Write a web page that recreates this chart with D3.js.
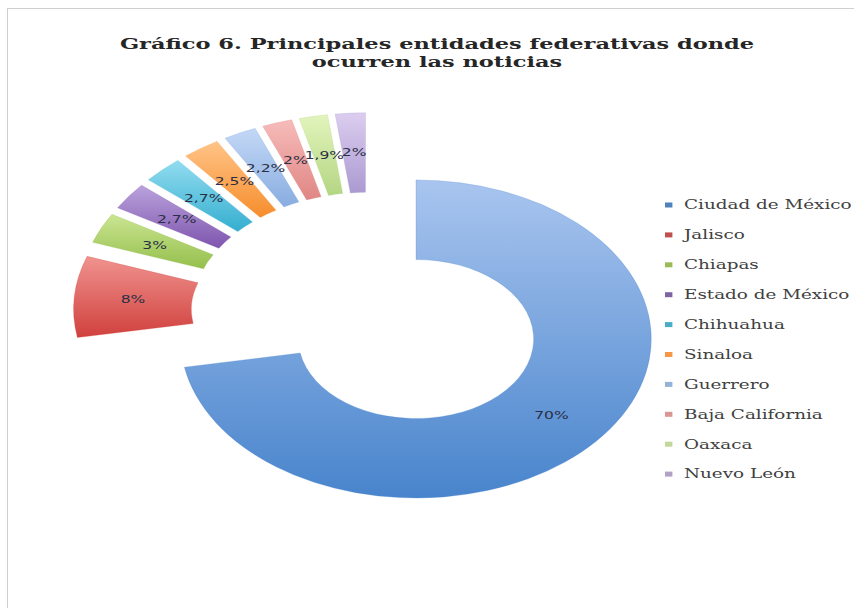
<!DOCTYPE html>
<html>
<head>
<meta charset="utf-8">
<script src="https://cdn.jsdelivr.net/npm/d3@7"></script>
<style>
  html, body { margin: 0; padding: 0; background: #ffffff; }
  svg { display: block; }
</style>
</head>
<body>
<svg id="chart" width="854" height="608"></svg>
<script>
// Entidades federativas y su porcentaje de noticias
const categories = [
  "Ciudad de México", "Jalisco", "Chiapas", "Estado de México", "Chihuahua",
  "Sinaloa", "Guerrero", "Baja California", "Oaxaca", "Nuevo León"
];
const values = [70, 8, 3, 2.7, 2.7, 2.5, 2.2, 2, 1.9, 2];
const titleLines = [
  "Gráfico 6. Principales entidades federativas donde",
  "ocurren las noticias"
];

// Office palette: base colour plus light/dark gradient stops per slice
const baseColors = ["#4F81BD", "#C0504D", "#9BBB59", "#8064A2", "#4BACC6",
                    "#F79646", "#95B3D7", "#D99694", "#C3D69B", "#B3A2C7"];
const topColors  = ["#a9c5ef", "#f0938f", "#cbe592", "#baa2dc", "#92dcf0",
                    "#ffc488", "#c4d8f6", "#f6bcba", "#e2f4bc", "#dccdf0"];
const botColors  = ["#4884cc", "#d0403d", "#94bf4c", "#7e55ae", "#34aecf",
                    "#f68d2c", "#88ade0", "#e08684", "#b4d683", "#ab9ad0"];

const svg = d3.select("#chart");

// Chart frame
svg.append("rect")
  .attr("x", 7.5).attr("y", 8.5)
  .attr("width", 900).attr("height", 700)
  .attr("fill", "#ffffff")
  .attr("stroke", "#cfcfcf").attr("stroke-width", 1);

// The whole chart is drawn with a horizontal stretch
const SX = 1.48;
const plot = svg.append("g").attr("transform", `scale(${SX},1)`);

const defs = svg.append("defs");
categories.forEach((c, i) => {
  const g = defs.append("linearGradient")
    .attr("id", "grad" + i)
    .attr("x1", 0).attr("y1", 0).attr("x2", 0).attr("y2", 1);
  g.append("stop").attr("offset", "0%").attr("stop-color", topColors[i]);
  g.append("stop").attr("offset", "100%").attr("stop-color", botColors[i]);
});

// Title
plot.append("g").selectAll("text")
  .data(titleLines)
  .join("text")
  .attr("x", 437 / SX)
  .attr("y", (d, i) => 49 + i * 18)
  .attr("text-anchor", "middle")
  .attr("font-family", "'DejaVu Serif', serif")
  .attr("font-weight", "bold")
  .attr("font-size", 15.2)
  .attr("fill", "#262626")
  .text(d => d);

// Doughnut (every slice pulled out along its bisector)
const outerR = 159, innerR = 79.5, explode = 41;
const cx = 416 / SX, cy = 339; // centre of the first slice once exploded

const pie = d3.pie().sort(null).value(d => d);
const arcs = pie(values);
const arc = d3.arc().innerRadius(innerR).outerRadius(outerR);

const bis = d => (d.startAngle + d.endAngle) / 2;
const offset = d => [explode * Math.sin(bis(d)), -explode * Math.cos(bis(d))];
const first = offset(arcs[0]);

const locale = d3.formatLocale({ decimal: ",", thousands: ".", grouping: [3], currency: ["$", ""] });
const fmt = v => locale.format("~g")(v) + "%";

const ring = plot.append("g")
  .attr("transform", `translate(${cx - first[0]},${cy - first[1]})`);

const slices = ring.selectAll("g.slice")
  .data(arcs)
  .join("g")
  .attr("class", "slice")
  .attr("transform", d => `translate(${offset(d)})`);

slices.append("path")
  .attr("d", arc)
  .attr("fill", (d, i) => `url(#grad${i})`)
  .attr("stroke", (d, i) => botColors[i])
  .attr("stroke-opacity", 0.35)
  .attr("stroke-width", 0.6);

slices.append("text")
  .attr("transform", d => `translate(${arc.centroid(d)})`)
  .attr("text-anchor", "middle")
  .attr("dy", "0.35em")
  .attr("font-family", "'DejaVu Sans', sans-serif")
  .attr("font-size", 10.5)
  .attr("fill", "#2b2f45")
  .text(d => fmt(d.data));

// Legend
const legend = plot.append("g");
const rows = legend.selectAll("g")
  .data(categories)
  .join("g")
  .attr("transform", (d, i) => `translate(${665 / SX},${205 + i * 29.9})`);

rows.append("rect")
  .attr("x", 0).attr("y", -2.5)
  .attr("width", 5).attr("height", 5)
  .attr("fill", (d, i) => baseColors[i]);

rows.append("text")
  .attr("x", 684 / SX - 665 / SX)
  .attr("dy", "0.35em")
  .attr("font-family", "'DejaVu Serif', serif")
  .attr("font-size", 12.4)
  .attr("fill", "#404040")
  .text(d => d);
</script>
</body>
</html>
